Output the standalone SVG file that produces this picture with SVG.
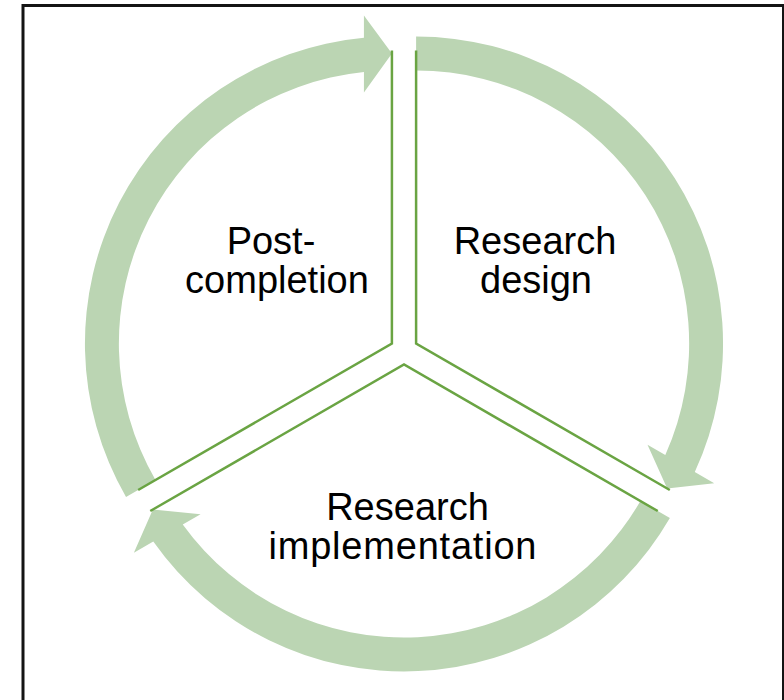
<svg xmlns="http://www.w3.org/2000/svg" xmlns:xlink="http://www.w3.org/1999/xlink" width="784" height="700" viewBox="0 0 784 700">
  <style>
    .frame { fill: none; stroke: #141414; stroke-width: 3; }
    .edge { fill: none; stroke: #6AA443; stroke-width: 2.5; stroke-linejoin: miter; }
    .band { fill: #BBD5B3; stroke: none; }
    .label { font-family: "Liberation Sans", Arial, sans-serif; font-size: 38px; fill: #000; text-anchor: middle; }
  </style>
  <defs>
    <!-- one 120-degree wedge, apex at origin, spanning -90deg to +30deg (clockwise) -->
    <path id="wedge-edges" class="edge" d="M 0,-293 L 0,0 L 253.7,146.5"/>
    <!-- curved arrow along the rim of the wedge, running clockwise, head at +30deg -->
    <path id="rim-arrow" class="band" d="M 0,-307 A 307 307 0 0 1 278.7,128.6 L 298.1,139.8 L 251.1,145 L 231.4,101.3 L 249.2,111.6 A 273 273 0 0 0 0,-273 Z"/>
  </defs>

  <rect class="frame" x="23" y="5.5" width="760.5" height="720"/>

  <!-- rim arrows linking the three stages -->
  <g id="connectors">
    <use xlink:href="#rim-arrow" transform="translate(416.1,343.5)"/>
    <use xlink:href="#rim-arrow" transform="translate(404,364.5) rotate(120)"/>
    <use xlink:href="#rim-arrow" transform="translate(391.9,343.5) rotate(240)"/>
  </g>

  <g id="research-design">
    <use xlink:href="#wedge-edges" transform="translate(416.1,343.5)"/>
    <text class="label" x="535" y="254">Research</text>
    <text class="label" x="536" y="293">design</text>
  </g>

  <g id="research-implementation">
    <use xlink:href="#wedge-edges" transform="translate(404,364.5) rotate(120)"/>
    <text class="label" x="407.5" y="519.5">Research</text>
    <text class="label" x="402.5" y="558.5" textLength="268" lengthAdjust="spacing">implementation</text>
  </g>

  <g id="post-completion">
    <use xlink:href="#wedge-edges" transform="translate(391.9,343.5) rotate(240)"/>
    <text class="label" x="271" y="254">Post-</text>
    <text class="label" x="277" y="293">completion</text>
  </g>
</svg>
